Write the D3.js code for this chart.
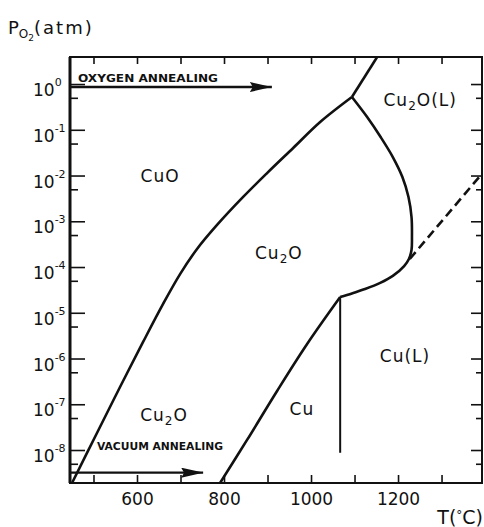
<!DOCTYPE html>
<html>
<head>
<meta charset="utf-8">
<script src="https://cdn.jsdelivr.net/npm/d3@7"></script>
<style>
body{margin:0;background:#fff;}
svg{display:block;font-family:"DejaVu Sans",Arial,sans-serif;}
</style>
</head>
<body>
<div id="chart"></div>
<script>
// temperature in °C, oxygen partial pressure in atm
const cuoT=[450.6,508,561,614,660,699,738,784,844,899,959,1021,1094];
const cuoP=[1.9e-9,2.35e-8,2.38e-7,2.3e-6,1.56e-5,7.0e-5,2.48e-4,8.3e-4,3.4e-3,1.13e-2,4.0e-2,0.148,0.521];

const meltT=[1094,1152];
const meltP=[0.521,3.9];

const cu2oLiqT=[1094,1129,1160,1188,1210,1224,1231,1232,1231,1225,1214,1188,1159,1124,1094,1067];
const cu2oLiqP=[0.521,0.190,0.0695,0.0254,9.3e-3,3.4e-3,1.24e-3,4.5e-4,2.35e-4,1.5e-4,1.05e-4,6.4e-5,4.5e-5,3.3e-5,2.64e-5,2.2e-5];

const cuT=[1067,991,922,853,788];
const cuP=[2.2e-5,2.07e-6,1.95e-7,1.66e-8,1.72e-9];

const cuMeltT=[1067,1067];
const cuMeltP=[2.2e-5,8.7e-9];

const dashT=[1227,1393];
const dashP=[1.5e-4,1.1e-2];

const oxyArrowT=[446,910];
const oxyArrowP=0.86;
const vacArrowT=[446,752];
const vacArrowP=3.2e-9;

const regionNames=["CuO","Cu_2O","Cu_2O(L)","Cu_2O","Cu","Cu(L)"];
const regionT=[653,926,1251,662,979,1216];
const regionP=[1.0e-2,2.0e-4,0.45,5.9e-8,8e-8,1.15e-6];

const tempTicks=[500,600,700,800,900,1000,1100,1200,1300];
const tempLabels=[600,800,1000,1200];
const decades=[0,-1,-2,-3,-4,-5,-6,-7,-8];


const W=484, H=527;
const svg=d3.select("#chart").append("svg")
    .attr("width", W)
    .attr("height", H);

const x=d3.scaleLinear().domain([446,1393]).range([70,482]);
const y=d3.scaleLog().domain([1.9e-9,3.9]).range([483,57]);

const x0=x.range()[0], x1=x.range()[1];
const yTop=y.range()[1], yBot=y.range()[0];

svg.append("clipPath").attr("id","plot-clip")
    .append("rect")
    .attr("x", x0).attr("y", yTop)
    .attr("width", x1-x0).attr("height", yBot-yTop);

const majorVals=decades.map(e => Math.pow(10,e));
const minorVals=decades.map(e => 5*Math.pow(10,e-1));

function styleAxis (g) {
    g.select(".domain").remove();
    g.selectAll("line").attr("stroke","#111").attr("stroke-width",1.6);
}

// bottom axis, ticks pointing inward
svg.append("g")
    .attr("transform", `translate(0,${yBot})`)
    .call(d3.axisBottom(x).tickValues(tempTicks).tickSize(-8).tickSizeOuter(0).tickPadding(10)
        .tickFormat(d => tempLabels.includes(d)? d:""))
    .call(styleAxis)
    .call(g => g.selectAll("text")
        .attr("fill","#111")
        .style("font-size","17px")
        .style("font-family","'DejaVu Sans',Arial,sans-serif"));

// top axis
svg.append("g")
    .attr("transform", `translate(0,${yTop})`)
    .call(d3.axisTop(x).tickValues(tempTicks).tickSize(-7).tickSizeOuter(0).tickFormat(""))
    .call(styleAxis);

// left axis
svg.append("g")
    .attr("transform", `translate(${x0},0)`)
    .call(d3.axisLeft(y).tickValues(majorVals).tickSize(-15).tickSizeOuter(0).tickFormat(""))
    .call(styleAxis);
svg.append("g")
    .attr("transform", `translate(${x0},0)`)
    .call(d3.axisLeft(y).tickValues(minorVals).tickSize(-8).tickSizeOuter(0).tickFormat(""))
    .call(styleAxis);

// right axis
svg.append("g")
    .attr("transform", `translate(${x1},0)`)
    .call(d3.axisRight(y).tickValues(majorVals).tickSize(-11).tickSizeOuter(0).tickFormat(""))
    .call(styleAxis);
svg.append("g")
    .attr("transform", `translate(${x1},0)`)
    .call(d3.axisRight(y).tickValues(minorVals).tickSize(-6).tickSizeOuter(0).tickFormat(""))
    .call(styleAxis);

// y tick labels 10^n
const yLab=svg.append("g").selectAll("text")
    .data(decades)
    .enter().append("text")
    .attr("x", 33)
    .attr("y", d => y(Math.pow(10,d))+12)
    .attr("fill","#111")
    .style("font-size","17px");
yLab.append("tspan").text("10");
yLab.append("tspan")
    .attr("dy",-10)
    .style("font-size","11px")
    .text(d => d===0? "0":"-"+(-d));

// frame
svg.append("rect")
    .attr("x", x0).attr("y", yTop)
    .attr("width", x1-x0).attr("height", yBot-yTop)
    .attr("fill","none")
    .attr("stroke","#111")
    .attr("stroke-width",2);
svg.append("line")
    .attr("x1", x0).attr("x2", x0)
    .attr("y1", yTop).attr("y2", yBot)
    .attr("stroke","#111")
    .attr("stroke-width",3);


// phase boundaries
const plot=svg.append("g").attr("clip-path","url(#plot-clip)");

function zip (ts, ps) {
    return ts.map((t,i) => [t, ps[i]]);
}

const smooth=d3.line()
    .x(d => x(d[0]))
    .y(d => y(d[1]))
    .curve(d3.curveCatmullRom.alpha(0.5));
const straight=d3.line()
    .x(d => x(d[0]))
    .y(d => y(d[1]));

plot.append("path").datum(zip(cuoT,cuoP)).attr("d", smooth);
plot.append("path").datum(zip(meltT,meltP)).attr("d", straight);
plot.append("path").datum(zip(cu2oLiqT,cu2oLiqP)).attr("d", smooth);
plot.append("path").datum(zip(cuT,cuP)).attr("d", smooth);
plot.append("path").datum(zip(cuMeltT,cuMeltP)).attr("d", straight).attr("stroke-width",2);
plot.append("path").datum(zip(dashT,dashP)).attr("d", straight).attr("stroke-dasharray","9,5");

plot.selectAll("path")
    .attr("fill","none")
    .attr("stroke","#111")
    .attr("stroke-linejoin","round")
    .each(function () {
        if (!this.getAttribute("stroke-width")) this.setAttribute("stroke-width",2.6);
    });


// annealing arrows
svg.append("defs").append("marker")
    .attr("id","arrow-head")
    .attr("markerUnits","userSpaceOnUse")
    .attr("markerWidth",22).attr("markerHeight",10)
    .attr("refX",22).attr("refY",5)
    .attr("orient","auto")
    .append("path")
    .attr("d","M0,0 L22,5 L0,10 L3,5 Z")
    .attr("fill","#111");

function arrow (ts, p, label, dx, dy, len) {
    svg.append("line")
        .attr("x1", x(ts[0])).attr("x2", x(ts[1]))
        .attr("y1", y(p)).attr("y2", y(p))
        .attr("stroke","#111")
        .attr("stroke-width",2.4)
        .attr("marker-end","url(#arrow-head)");
    svg.append("text")
        .attr("x", x(ts[0])+dx)
        .attr("y", y(p)+dy)
        .attr("fill","#111")
        .attr("textLength", len)
        .attr("lengthAdjust","spacingAndGlyphs")
        .style("font-size","11px")
        .style("font-weight","bold")
        .text(label);
}
arrow(oxyArrowT, oxyArrowP, "OXYGEN  ANNEALING", 8, -5, 140);
arrow(vacArrowT, vacArrowP, "VACUUM ANNEALING", 27, -23, 126);


// region labels with subscripts
const reg=svg.append("g").selectAll("text")
    .data(regionNames.map((n,i) => ({name: n, t: regionT[i], p: regionP[i]})))
    .enter().append("text")
    .attr("x", d => x(d.t))
    .attr("y", d => y(d.p)+6)
    .attr("text-anchor","middle")
    .attr("fill","#111")
    .style("font-size","17px")
    .style("letter-spacing","1px");

reg.each(function (d) {
    const el=d3.select(this);
    const parts=d.name.split("_");
    el.append("tspan").text(parts[0]);
    if (parts.length>1) {
        el.append("tspan").attr("dy",4).style("font-size","12px").text(parts[1][0]);
        el.append("tspan").attr("dy",-4).text(parts[1].slice(1));
    }
});


// axis titles
const title=svg.append("text")
    .attr("x", 8)
    .attr("y", 34)
    .attr("fill","#111")
    .style("font-size","18px");
title.append("tspan").text("P");
title.append("tspan").attr("dy",4).style("font-size","12px").text("O");
title.append("tspan").attr("dy",3).style("font-size","9px").text("2");
title.append("tspan").attr("dy",-7).style("letter-spacing","2px").text("(atm)");

const xt=svg.append("text")
    .attr("x", 483)
    .attr("y", 524)
    .attr("text-anchor","end")
    .attr("fill","#111")
    .style("font-size","19px");
xt.append("tspan").text("T(");
xt.append("tspan").attr("dy",-5).style("font-size","12px").text("°");
xt.append("tspan").attr("dy",5).text("C)");
</script>
</body>
</html>
